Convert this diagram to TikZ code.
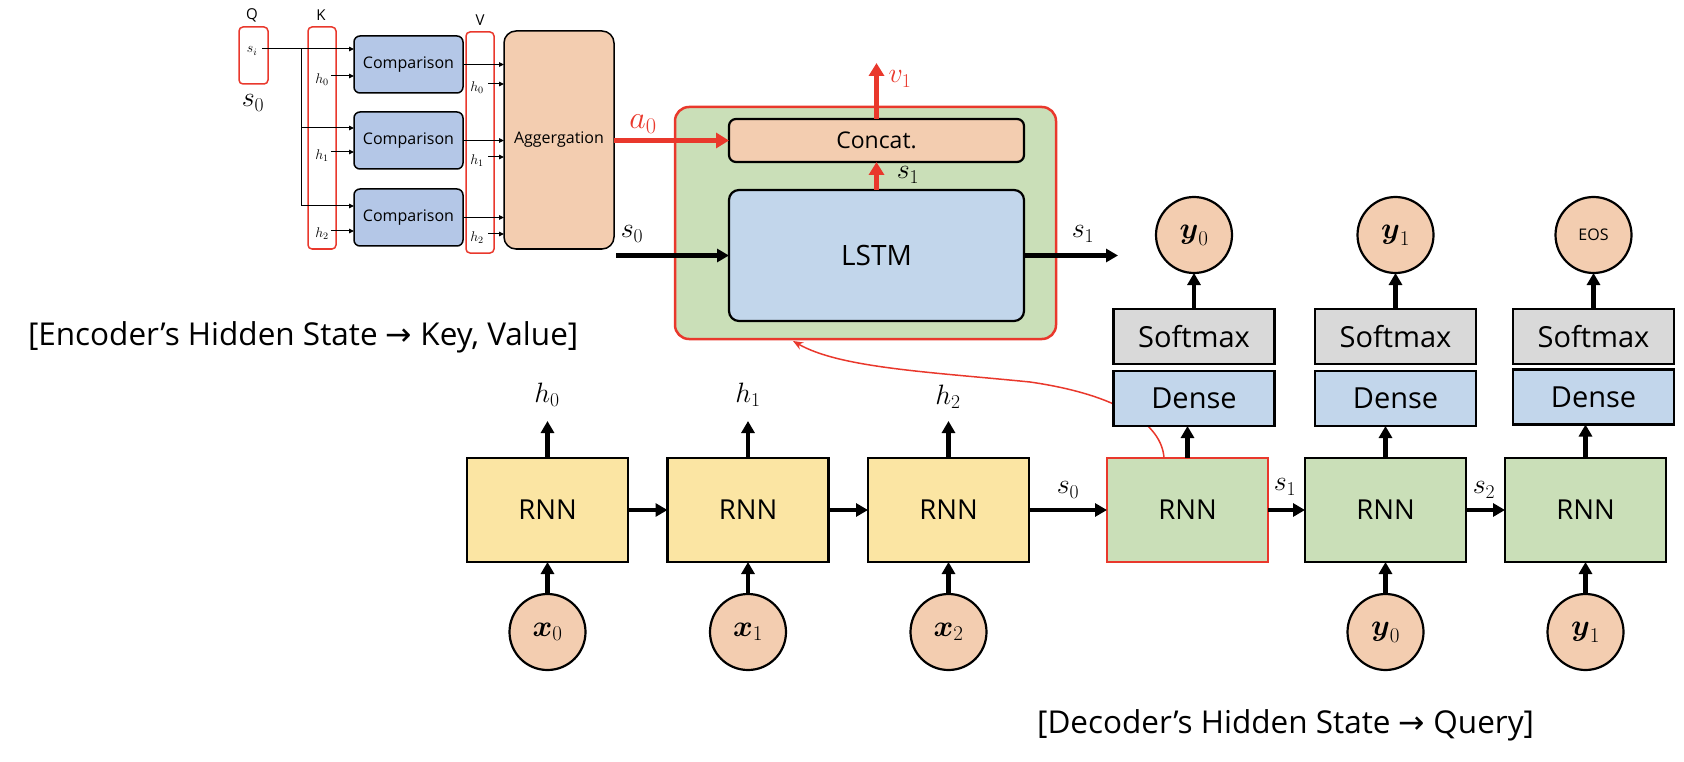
\RequirePackage{fix-cm}
\documentclass[tikz,border=0pt]{standalone}
\usepackage{amsmath}
\usepackage[no-math]{fontspec}
\setmainfont{Open Sans}
\newfontfamily\symfont{DejaVu Sans}
\usetikzlibrary{arrows.meta,backgrounds}
\definecolor{cred}{RGB}{233,56,44}
\definecolor{cyellow}{RGB}{251,229,163}
\definecolor{cgreen}{RGB}{202,223,184}
\definecolor{cpeach}{RGB}{243,205,176}
\definecolor{cblue}{RGB}{194,214,235}
\definecolor{cblue2}{RGB}{180,199,231}
\definecolor{cgray}{RGB}{217,217,217}
\tikzset{
  redbox/.style={draw=cred, line width=1.5pt, rounded corners=4pt},
  cmpbox/.style={draw=black, line width=1.5pt, rounded corners=6pt, fill=cblue2, minimum width=109pt, minimum height=57pt, font=\fontsize{16}{19}\selectfont},
  aggbox/.style={draw=black, line width=1.5pt, rounded corners=12pt, fill=cpeach, minimum width=110pt, minimum height=218pt, font=\fontsize{16}{19}\selectfont},
  tarr/.style={line width=1pt, -{Triangle[length=5pt,width=4.5pt]}},
  tline/.style={line width=1pt},
  barr/.style={line width=4.5pt, -{Triangle[length=12pt,width=13pt]}},
  rarr/.style={line width=5pt, draw=cred, -{Triangle[length=13pt,width=15pt]}},
  rnnenc/.style={draw=black, line width=2.2pt, fill=cyellow, minimum width=161pt, minimum height=104pt, font=\fontsize{27.5}{31}\selectfont},
  rnndec/.style={rnnenc, fill=cgreen},
  densebox/.style={draw=black, line width=2.2pt, fill=cblue, minimum width=161pt, minimum height=55pt, font=\fontsize{29}{33}\selectfont},
  softbox/.style={densebox, fill=cgray},
  circ/.style={circle, draw=black, line width=2.2pt, fill=cpeach, minimum size=76pt, font=\fontsize{30}{34}\selectfont},
  mlbl/.style={font=\fontsize{28}{32}\selectfont},
  slbl/.style={font=\fontsize{15}{18}\selectfont},
  klbl/.style={font=\fontsize{14}{16}\selectfont},
  captxt/.style={font=\fontsize{31.5}{36}\selectfont},
}
\begin{document}
\begin{tikzpicture}[x=1pt,y=-1pt, every node/.style={inner sep=0pt, outer sep=0pt}]
\useasboundingbox (0,0) rectangle (1684,762);

% ---------- attention (top-left) ----------
\node[slbl] (ql) at (252,15) {Q};
\node[slbl] (kl) at (321,15) {K};
\node[slbl] (vl) at (480,20) {V};
\node[redbox, minimum width=29pt, minimum height=57pt] (qbox) at (253.5,55.5) {};
\node[redbox, minimum width=28pt, minimum height=222pt] (kbox) at (322,138) {};
\node[redbox, minimum width=28pt, minimum height=221pt] (vbox) at (480,142.5) {};
\node[klbl] (si) at (252,51) {$s_i$};
\node[mlbl] (s0big) at (253,103) {$s_0$};
\node[cmpbox] (c1) at (408.5,64.5) {Comparison};
\node[cmpbox] (c2) at (408.5,140.5) {Comparison};
\node[cmpbox] (c3) at (408.5,217.5) {Comparison};
\node[aggbox] (agg) at (559,140) {Aggergation};

\coordinate (b1) at (301,49);
\coordinate (b2) at (301,128);
\coordinate (b3) at (301,206);
\coordinate (sis) at (262,49);
\draw[tarr] (sis) -- (sis -| c1.west);
\draw[tline] (b1) -- (b3);
\draw[tarr] (b2) -- (b2 -| c2.west);
\draw[tarr] (b3) -- (b3 -| c3.west);

\node[klbl] (kh0) at (322,80) {$h_0$};
\node[klbl] (kh1) at (322,156) {$h_1$};
\node[klbl] (kh2) at (322,234) {$h_2$};
\coordinate (ka0) at (331,76);
\coordinate (ka1) at (331,152);
\coordinate (ka2) at (331,231);
\draw[tarr] (ka0) -- (ka0 -| c1.west);
\draw[tarr] (ka1) -- (ka1 -| c2.west);
\draw[tarr] (ka2) -- (ka2 -| c3.west);

\draw[tarr] (c1.east) -- (c1.east -| agg.west);
\draw[tarr] (c2.east) -- (c2.east -| agg.west);
\draw[tarr] (c3.east) -- (c3.east -| agg.west);

\node[klbl] (vh0) at (477,88) {$h_0$};
\node[klbl] (vh1) at (477,161) {$h_1$};
\node[klbl] (vh2) at (477,238) {$h_2$};
\coordinate (va0) at (488,84);
\coordinate (va1) at (488,157);
\coordinate (va2) at (488,234);
\draw[tarr] (va0) -- (va0 -| agg.west);
\draw[tarr] (va1) -- (va1 -| agg.west);
\draw[tarr] (va2) -- (va2 -| agg.west);

% ---------- decoder cell (green) ----------
\node[draw=cred, line width=2.5pt, fill=cgreen, rounded corners=14pt, minimum width=381pt, minimum height=232pt] (grn) at (865.5,223) {};
\node[draw=black, line width=2.2pt, fill=cpeach, rounded corners=7pt, minimum width=295pt, minimum height=43pt, font=\fontsize{23}{27}\selectfont] (cc) at (876.5,140.5) {Concat.};
\node[draw=black, line width=2.2pt, fill=cblue, rounded corners=10pt, minimum width=295pt, minimum height=131pt, font=\fontsize{28}{32}\selectfont] (lstm) at (876.5,255.5) {LSTM};

\coordinate (v1end) at (876.5,63);
\draw[rarr] (cc.north) -- (v1end);
\node[mlbl, text=cred] (v1l) at (900,79) {$v_1$};
\draw[rarr] (lstm.north) -- (cc.south);
\node[mlbl] (s1l) at (908,175) {$s_1$};
\draw[rarr] (agg.east |- cc.west) -- (cc.west);
\node[font=\fontsize{32}{36}\selectfont, text=cred] (a0l) at (643,124) {$a_0$};
\coordinate (s0start) at (616,255.5);
\draw[barr] (s0start) -- (lstm.west);
\node[mlbl] (s0l) at (632,234) {$s_0$};
\coordinate (s1end) at (1118,255.5);
\draw[barr] (lstm.east) -- (s1end);
\node[mlbl] (s1o) at (1083,234) {$s_1$};

% ---------- encoder / decoder RNN chain ----------
\node[rnnenc] (e1) at (547.5,510) {RNN};
\node[rnnenc] (e2) at (748,510) {RNN};
\node[rnnenc] (e3) at (948.5,510) {RNN};
\node[rnndec, draw=cred, line width=2.5pt] (d1) at (1187.5,510) {RNN};
\node[rnndec] (d2) at (1385.5,510) {RNN};
\node[rnndec] (d3) at (1585.5,510) {RNN};

\draw[barr] (e1.east) -- (e2.west);
\draw[barr] (e2.east) -- (e3.west);
\draw[barr] (e3.east) -- (d1.west);
\draw[barr] (d1.east) -- (d2.west);
\draw[barr] (d2.east) -- (d3.west);
\node[mlbl] (s0d) at (1068,490) {$s_0$};
\node[mlbl] (s1d) at (1285,487) {$s_1$};
\node[mlbl] (s2d) at (1484,490) {$s_2$};

% encoder outputs h
\coordinate (he0) at (547.5,421);
\coordinate (he1) at (748,421);
\coordinate (he2) at (948.5,421);
\draw[barr] (e1.north) -- (he0);
\draw[barr] (e2.north) -- (he1);
\draw[barr] (e3.north) -- (he2);
\node[mlbl] (h0l) at (547,395) {$h_0$};
\node[mlbl] (h1l) at (748,395) {$h_1$};
\node[mlbl] (h2l) at (948,397) {$h_2$};

% encoder inputs
\node[circ] (x0) at (547.5,632) {$\boldsymbol{x}_0$};
\node[circ] (x1) at (748,632) {$\boldsymbol{x}_1$};
\node[circ] (x2) at (948.5,632) {$\boldsymbol{x}_2$};
\draw[barr] (x0.north) -- (e1.south);
\draw[barr] (x1.north) -- (e2.south);
\draw[barr] (x2.north) -- (e3.south);

% decoder inputs
\node[circ] (yi0) at (1385.5,632) {$\boldsymbol{y}_0$};
\node[circ] (yi1) at (1585.5,632) {$\boldsymbol{y}_1$};
\draw[barr] (yi0.north) -- (d2.south);
\draw[barr] (yi1.north) -- (d3.south);

% dense / softmax / outputs
\node[densebox] (de1) at (1194,398.5) {Dense};
\node[densebox] (de2) at (1395.5,398.5) {Dense};
\node[densebox] (de3) at (1593.5,397) {Dense};
\node[softbox] (so1) at (1194,336.5) {Softmax};
\node[softbox] (so2) at (1395.5,336.5) {Softmax};
\node[softbox] (so3) at (1593.5,336.5) {Softmax};
\node[circ] (t1) at (1194,235) {$\boldsymbol{y}_0$};
\node[circ] (t2) at (1395.5,235) {$\boldsymbol{y}_1$};
\node[circ, font=\fontsize{16}{19}\selectfont] (t3) at (1593.5,235) {EOS};

\draw[barr] (d1.north) -- (d1.north |- de1.south);
\draw[barr] (d2.north) -- (d2.north |- de2.south);
\draw[barr] (d3.north) -- (d3.north |- de3.south);
\draw[barr] (so1.north) -- (t1.south);
\draw[barr] (so2.north) -- (t2.south);
\draw[barr] (so3.north) -- (t3.south);

% red query curve (behind the Dense box)
\begin{pgfonlayer}{background}
\draw[cred, line width=1.5pt, -{Stealth[length=10pt,width=8pt]}]
  ([xshift=-23.5pt]d1.north) .. controls (1162,425) and (1120,395) .. (1030,382)
  .. controls (930,372) and (840,368) .. ([xshift=-72.5pt,yshift=-2pt]grn.south);
\end{pgfonlayer}

% captions
\node[captxt, anchor=base west] (enc) at (28,345) {[Encoder’s Hidden State {\symfont →} Key, Value]};
\node[captxt, anchor=base east] (dec) at (1534,733) {[Decoder’s Hidden State {\symfont →} Query]};
\end{tikzpicture}
\end{document}
